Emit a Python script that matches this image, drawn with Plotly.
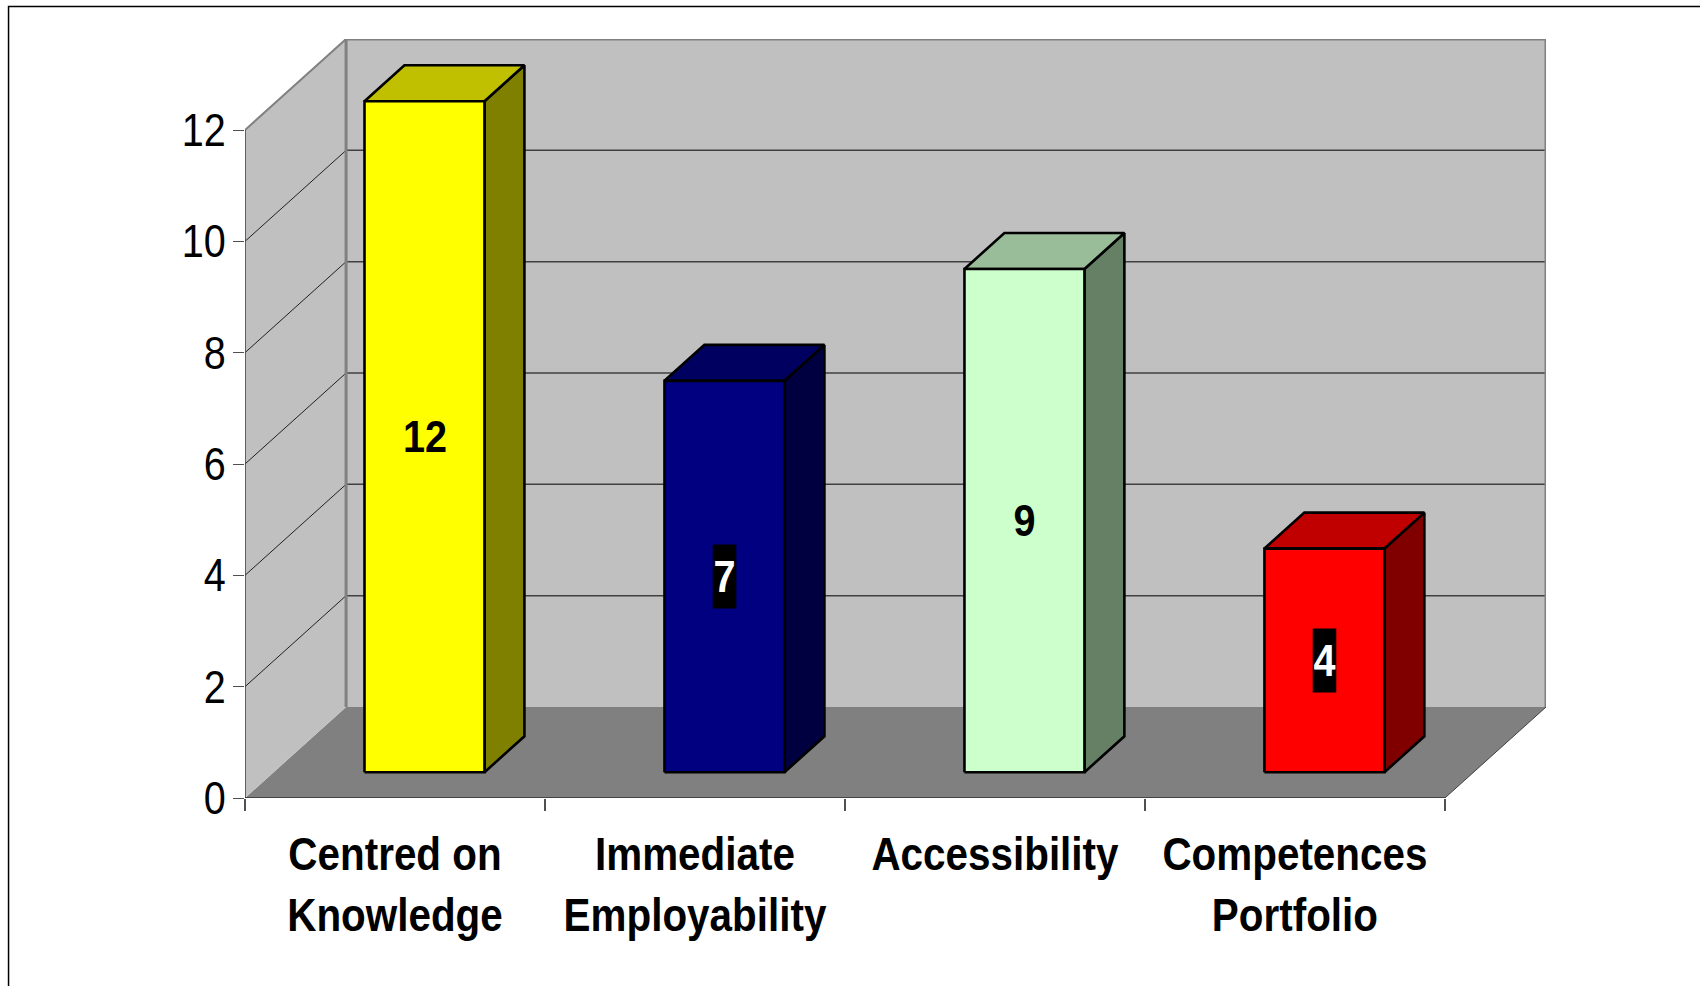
import plotly.graph_objects as go

categories = ["Centred on<br>Knowledge", "Immediate<br>Employability", "Accessibility", "Competences<br>Portfolio"]
values = [12, 7, 9, 4]
y_ticks = [0, 2, 4, 6, 8, 10, 12]
front_colors = ["#FFFF00", "#000080", "#CCFFCC", "#FF0000"]
top_colors = ["#C0C000", "#000060", "#99BD99", "#C00000"]
side_colors = ["#808000", "#000040", "#668066", "#800000"]
label_colors = ["#000000", "#FFFFFF", "#000000", "#FFFFFF"]
label_backgrounds = ["rgba(0,0,0,0)", "#000000", "rgba(0,0,0,0)", "#000000"]

W, H = 1700, 986
L, R, T, B = 245, 1545.7, 39, 798
N = len(categories)
YMAX = max(y_ticks)
DX = 101 / ((1444 - L) / N)            # depth offset in category units
DY = 91 / ((B - 130) / YMAX)           # depth offset in value units
NEAR = 0.283                           # front of the bars within the depth
DEPTH = 0.395                          # bar depth as a share of the depth
BAR_W = 0.4
SHIFT = 0.003
SCALE = 1.0045
FONT = "Liberation Sans"
WALL = "#C0C0C0"
EDGE = "#808080"

fig = go.Figure()


def poly(xs, ys, fill=None, line="rgba(0,0,0,0)", width=0, name=""):
    fig.add_trace(go.Scatter(
        x=xs, y=ys, mode="lines", name=name, showlegend=False, hoverinfo="skip",
        fill="toself" if fill else None, fillcolor=fill,
        line=dict(color=line, width=width, shape="linear"), cliponaxis=False))


# walls and floor
poly([0, DX, N + DX, N, 0], [0, DY, DY, 0, 0], fill=EDGE, name="floor")
poly([DX, N + DX, N + DX, DX, DX], [DY, DY, YMAX + DY, YMAX + DY, DY], fill=WALL, name="back wall")
poly([0, DX, DX, 0, 0], [0, DY, YMAX + DY, YMAX, 0], fill=WALL, name="side wall")

# gridlines
for v in y_ticks[1:-1]:
    poly([0, DX], [v, v + DY], line="#202020", width=1, name="grid side")
    poly([DX, N + DX], [v + DY, v + DY], line="#404040", width=1.5, name="grid back")

# wall edges
poly([DX, N + DX, N + DX], [DY + YMAX, DY + YMAX, DY], line=EDGE, width=3, name="back edge")
poly([DX, DX], [DY, DY + YMAX], line=EDGE, width=3, name="back left edge")
poly([0, DX], [YMAX, YMAX + DY], line=EDGE, width=2, name="top side edge")
poly([N, N + DX], [0, DY], line="#404040", width=1, name="floor edge")
poly([0, 0], [0, YMAX], line="#404040", width=1.5, name="value axis")
poly([0, N], [0, 0], line="#303030", width=1.5, name="category axis")

# bars
for i, v in enumerate(values):
    cx = i + 0.5 + NEAR * DX + SHIFT
    x0, x1 = cx - BAR_W / 2, cx + BAR_W / 2
    y0 = NEAR * DY
    y1 = y0 + v * SCALE
    ddx, ddy = DEPTH * DX, DEPTH * DY
    poly([x1, x1 + ddx, x1 + ddx, x1, x1], [y0, y0 + ddy, y1 + ddy, y1, y0],
         fill=side_colors[i], line="#000000", width=2.6, name="side")
    poly([x0, x0 + ddx, x1 + ddx, x1, x0], [y1, y1 + ddy, y1 + ddy, y1, y1],
         fill=top_colors[i], line="#000000", width=2.6, name="top")
    poly([x0, x1, x1, x0, x0], [y0, y0, y1, y1, y0],
         fill=front_colors[i], line="#000000", width=2.6, name="front")
    fig.add_annotation(x=cx, y=(y0 + y1) / 2, text=f"<b>{v}</b>", showarrow=False,
                       font=dict(family=FONT, size=45, color=label_colors[i]),
                       bgcolor=label_backgrounds[i], borderpad=6)

# outer frame running off the right and bottom of the page
fx0 = (8.6 - L) / (R - L)
fx1 = (W + 5 - L) / (R - L)
fy0 = (B - (H + 5)) / (B - T)
fy1 = (B - 6.5) / (B - T)
fig.add_shape(type="rect", xref="paper", yref="paper", x0=fx0, x1=fx1, y0=fy0, y1=fy1,
              line=dict(color="#000000", width=1.5), layer="below")

fig.update_layout(
    width=W, height=H, autosize=False,
    margin=dict(l=L, r=W - R, t=T, b=H - B, pad=0),
    paper_bgcolor="#FFFFFF", plot_bgcolor="#FFFFFF",
    showlegend=False, hovermode=False,
    font=dict(family=FONT, color="#000000"),
    xaxis=dict(
        range=[0, N + DX], showgrid=False, zeroline=False, showline=False,
        tickmode="array", tickvals=[i + 0.5 for i in range(N)],
        ticktext=[f"<b>{c.replace('<br>', '</b><br><b>')}</b>" for c in categories],
        ticks="", tickangle=0, tickfont=dict(family=FONT, size=47, color="#000000"),
        ticklabelstandoff=24,
        minor=dict(tickmode="array", tickvals=list(range(N + 1)), ticks="outside",
                   ticklen=12, tickwidth=1.5, tickcolor="#505050", showgrid=False)),
    yaxis=dict(
        range=[0, YMAX + DY], showgrid=False, zeroline=False, showline=False,
        tickmode="array", tickvals=y_ticks, ticks="outside", ticklen=11,
        tickwidth=1.2, tickcolor="#505050", ticklabelstandoff=-2,
        tickfont=dict(family=FONT, size=46, color="#000000")),
)

# The reference lettering is a narrow sans; no narrow face is installed, so the
# real text elements are condensed horizontally once they have been laid out.
NARROW_SCRIPT = """
function squeeze(el, s, anchor) {
  if (el.dataset.squeezed) return;
  var b = el.getBBox();
  if (!b.width) return;
  var c = anchor === 'right' ? b.x + b.width : b.x + b.width / 2;
  var old = el.getAttribute('transform') || '';
  el.setAttribute('transform', old + ' translate(' + c + ',0) scale(' + s + ',1) translate(' + (-c) + ',0)');
  el.dataset.squeezed = '1';
}
function narrow() {
  document.querySelectorAll('.xtick text').forEach(function (e) { squeeze(e, 0.86, 'mid'); });
  document.querySelectorAll('.ytick text').forEach(function (e) { squeeze(e, 0.86, 'right'); });
  document.querySelectorAll('.annotation text').forEach(function (e) { squeeze(e, 0.88, 'mid'); });
  document.querySelectorAll('.annotation rect.bg').forEach(function (e) { squeeze(e, 0.62, 'mid'); });
}
document.body.style.margin = '0';
document.body.style.overflow = 'hidden';
narrow();
setTimeout(narrow, 30);
setTimeout(narrow, 200);
"""
fig.write_html("out.html", config={"displayModeBar": False}, post_script=NARROW_SCRIPT)
